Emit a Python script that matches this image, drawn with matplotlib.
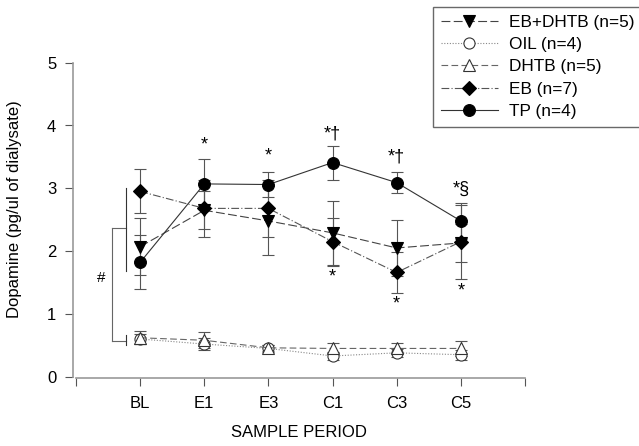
import matplotlib
matplotlib.use("Agg")
import matplotlib.pyplot as plt
import numpy as np

plt.rcParams['font.family'] = ['Liberation Sans', 'DejaVu Sans']

periods = ["BL", "E1", "E3", "C1", "C3", "C5"]
xpos = np.arange(1, 7)

eb_dhtb = [2.07, 2.65, 2.48, 2.29, 2.05, 2.13]
eb_dhtb_err = [0.45, 0.30, 0.55, 0.51, 0.45, 0.30]
oil = [0.60, 0.52, 0.45, 0.33, 0.38, 0.35]
oil_err = [0.08, 0.09, 0.05, 0.06, 0.06, 0.08]
dhtb = [0.62, 0.58, 0.46, 0.45, 0.45, 0.45]
dhtb_err = [0.10, 0.13, 0.05, 0.08, 0.08, 0.12]
eb = [2.95, 2.68, 2.68, 2.15, 1.66, 2.15]
eb_err = [0.35, 0.45, 0.45, 0.38, 0.32, 0.59]
tp = [1.82, 3.07, 3.06, 3.41, 3.09, 2.48]
tp_err = [0.43, 0.40, 0.20, 0.27, 0.17, 0.29]

above_marks = {2: "*", 3: "*", 4: "*\u2020", 5: "*\u2020", 6: "*\u00a7"}
above_y = {2: 3.69, 3: 3.52, 4: 3.87, 5: 3.50, 6: 2.98}
below_marks = {4: "*", 5: "*", 6: "*"}
below_y = {4: 1.58, 5: 1.15, 6: 1.36}

fig = plt.figure(figsize=(6.39, 4.46), dpi=100)
ax = fig.add_axes([73/639, (446-376.7)/446, (525-73)/639, (376.7-62.7)/446])

ecol = '#555555'
common = dict(elinewidth=0.8, capsize=4, capthick=0.8, ecolor=ecol)

series = [
    ("EB+DHTB (n=5)", eb_dhtb, eb_dhtb_err, 'v', 'black', 'black', (0, (8, 3)), '#444444', 9),
    ("OIL (n=4)", oil, oil_err, 'o', 'white', '#333333', (0, (1, 1.5)), '#888888', 8),
    ("DHTB (n=5)", dhtb, dhtb_err, '^', 'white', '#333333', (0, (6, 3)), '#666666', 8.5),
    ("EB (n=7)", eb, eb_err, 'D', 'black', 'black', (0, (7, 2, 1, 2)), '#555555', 7.5),
    ("TP (n=4)", tp, tp_err, 'o', 'black', 'black', '-', '#333333', 8.5),
]
handles = []
for label, vals, errs, mk, mfc, mec, ls, lc, ms in series:
    ax.errorbar(xpos, vals, yerr=errs, fmt='none', zorder=2, **common)
    ln, = ax.plot(xpos, vals, linestyle=ls, color=lc, linewidth=0.8, marker=mk,
                  markerfacecolor=mfc, markeredgecolor=mec, markersize=ms,
                  markeredgewidth=0.8, label=label, zorder=3)
    handles.append(ln)

for k, s in above_marks.items():
    ax.text(k, above_y[k], s, ha='center', va='center', fontsize=13)
for k, s in below_marks.items():
    ax.text(k, below_y[k], s, ha='center', va='center', fontsize=13)

# significance bracket
bc = '#666666'
ax.plot([0.56, 0.56], [0.57, 2.37], color=bc, lw=0.8)
ax.plot([0.56, 0.78], [2.37, 2.37], color=bc, lw=0.8)
ax.plot([0.56, 0.78], [0.57, 0.57], color=bc, lw=0.8)
ax.plot([0.78, 0.78], [1.68, 3.0], color='#333333', lw=0.8)
ax.plot([0.78, 0.78], [0.50, 0.66], color='#333333', lw=0.8)
ax.text(0.39, 1.57, "#", ha='center', va='center', fontsize=11)

ax.set_xlim(-0.047, 7)
ax.set_ylim(0, 5)
ax.set_xticks([0] + list(xpos) + [7])
ax.set_xticklabels([""] + periods + [""])
ax.set_yticks([0, 1, 2, 3, 4, 5])

for sp in ['top', 'right']:
    ax.spines[sp].set_visible(False)
ax.spines['left'].set_bounds(0, 5)
ax.spines['bottom'].set_bounds(0, 7)
ax.spines['bottom'].set_position(('outward', 1))
for sp in ['left', 'bottom']:
    ax.spines[sp].set_color('#999999')
    ax.spines[sp].set_linewidth(1.2)
ax.tick_params(axis='both', direction='out', length=6, width=0.8, color='#555555',
               labelsize=12, pad=6)
ax.tick_params(axis='x', pad=7)

ax.set_xlabel("SAMPLE PERIOD", fontsize=12, labelpad=10)
ax.set_ylabel("Dopamine (pg/ul of dialysate)", fontsize=12)
ax.yaxis.set_label_coords(-0.112, 0.535)

leg = fig.legend(handles=handles, loc='upper left', bbox_to_anchor=(433/639, 1-7/446),
                 fontsize=12.4, frameon=True, fancybox=False, edgecolor='#444444',
                 handlelength=3.3, handletextpad=0.64, labelspacing=0.42,
                 borderpad=0.45, borderaxespad=0)
leg.get_frame().set_linewidth(1.0)

fig.savefig("out.png", dpi=100)
